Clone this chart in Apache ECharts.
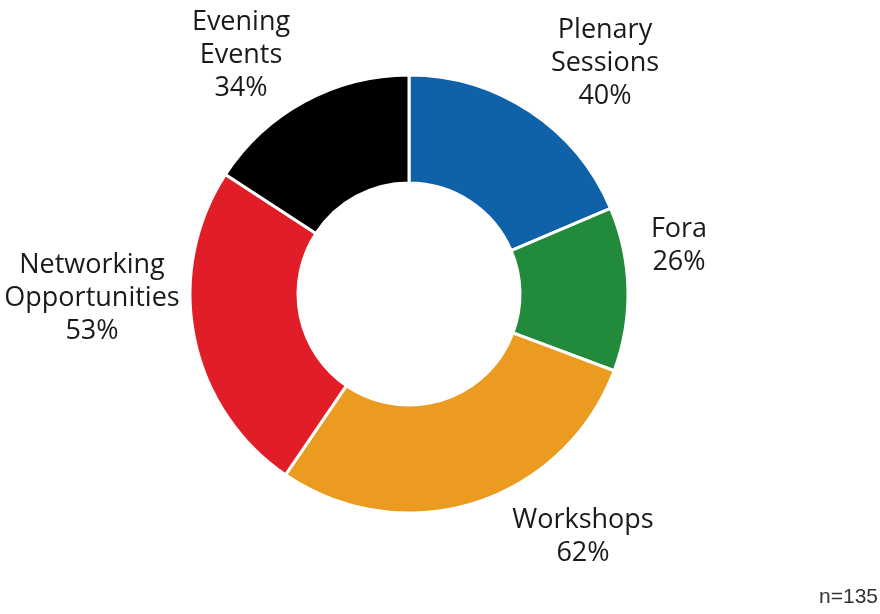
<!DOCTYPE html>
<html>
<head>
<meta charset="utf-8">
<script src="https://cdn.jsdelivr.net/npm/echarts@6/dist/echarts.min.js"></script>
<style>
html,body{margin:0;padding:0;background:#fff;}
#chart{width:880px;height:614px;}
</style>
</head>
<body>
<div id="chart"></div>
<script>
var categories = ['Plenary Sessions', 'Fora', 'Workshops', 'Networking Opportunities', 'Evening Events'];
var labelTexts = ['Plenary\nSessions', 'Fora', 'Workshops', 'Networking\nOpportunities', 'Evening\nEvents'];
var values = [40, 26, 62, 53, 34];
var colors = ['#0f61a8', '#228b3b', '#ec9b21', '#e11d27', '#000000'];
var sampleNote = 'n=135';

// label centre offsets from the pie centre (styling only)
var labelOffsets = [[196, -231], [270, -48], [174, 243], [-317, 4], [-168, -239]];
var pieCenter = [409, 294];

var chart = echarts.init(document.getElementById('chart'));
var data = categories.map(function (c, i) {
  return { name: c, value: values[i], itemStyle: { color: colors[i] } };
});

chart.setOption({
  animation: false,
  backgroundColor: '#ffffff',
  series: [{
    type: 'pie',
    center: pieCenter,
    radius: [111, 219],
    startAngle: 90,
    clockwise: true,
    avoidLabelOverlap: false,
    itemStyle: { borderColor: '#ffffff', borderWidth: 3 },
    label: {
      show: true,
      position: 'outside',
      formatter: function (p) { return labelTexts[p.dataIndex] + '\n' + p.value + '%'; },
      fontFamily: 'Open Sans',
      fontSize: 27,
      lineHeight: 33,
      color: '#1a1a1a'
    },
    labelLine: { show: false },
    labelLayout: function (p) {
      var o = labelOffsets[p.dataIndex];
      return { x: pieCenter[0] + o[0], y: pieCenter[1] + o[1], align: 'center', verticalAlign: 'middle' };
    },
    data: data
  }],
  graphic: [{
    type: 'text',
    right: 2,
    top: 587,
    style: { text: sampleNote, font: '21px "Liberation Sans", Arial, sans-serif', fill: '#333333' }
  }]
});
</script>
</body>
</html>
